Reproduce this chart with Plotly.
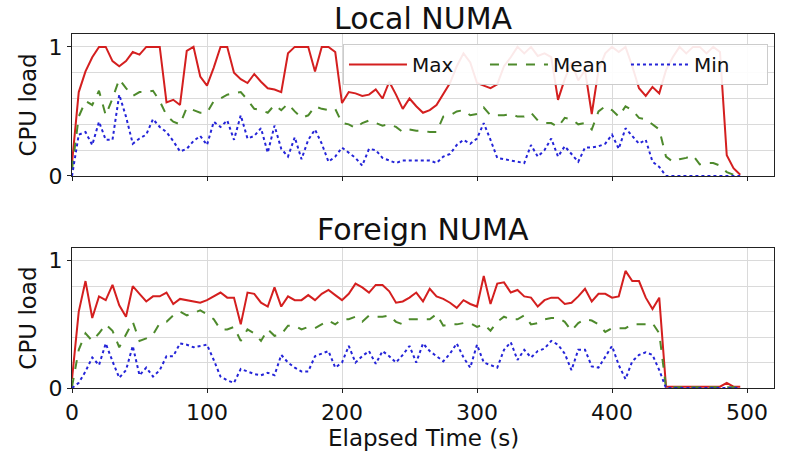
import plotly.graph_objects as go

time_s = list(range(0, 500, 5))

local_max = [0.10, 0.65, 0.81, 0.92, 1.00, 1.00, 0.89, 0.85, 0.89, 0.96,
             0.94, 1.00, 1.00, 1.00, 0.57, 0.59, 0.55, 0.97, 1.00, 0.77,
             0.70, 0.84, 1.00, 1.00, 0.80, 0.75, 0.72, 0.79, 0.73, 0.68,
             0.67, 0.65, 0.95, 1.00, 1.00, 1.00, 0.81, 1.00, 1.00, 0.96,
             0.565, 0.65, 0.64, 0.62, 0.63, 0.67, 0.60, 0.73, 0.63, 0.52,
             0.60, 0.54, 0.49, 0.51, 0.55, 0.63, 0.72, 0.85, 0.95, 0.88,
             0.72, 0.70, 0.68, 0.71, 0.85, 0.92, 1.00, 0.95, 1.00, 0.93,
             0.95, 0.92, 0.59, 0.75, 0.88, 0.74, 0.82, 0.48, 0.82, 0.95,
             1.00, 0.96, 1.00, 0.85, 0.68, 0.62, 0.69, 0.64, 0.82, 0.92,
             1.00, 0.95, 1.00, 1.00, 0.95, 1.00, 0.96, 0.16, 0.06, 0.01]

local_mean = [0.05, 0.46, 0.58, 0.55, 0.66, 0.47, 0.60, 0.75, 0.68, 0.62,
              0.65, 0.65, 0.66, 0.58, 0.47, 0.42, 0.40, 0.53, 0.51, 0.49,
              0.49, 0.58, 0.60, 0.63, 0.64, 0.65, 0.59, 0.52, 0.51, 0.49,
              0.55, 0.51, 0.56, 0.50, 0.45, 0.47, 0.54, 0.52, 0.51, 0.52,
              0.41, 0.40, 0.37, 0.41, 0.43, 0.41, 0.39, 0.40, 0.38, 0.34,
              0.36, 0.35, 0.35, 0.34, 0.34, 0.46, 0.47, 0.50, 0.51, 0.47,
              0.48, 0.53, 0.47, 0.47, 0.47, 0.48, 0.46, 0.46, 0.49, 0.43,
              0.41, 0.41, 0.38, 0.45, 0.44, 0.40, 0.41, 0.36, 0.50, 0.54,
              0.51, 0.46, 0.54, 0.51, 0.45, 0.44, 0.40, 0.36, 0.15, 0.11,
              0.13, 0.14, 0.16, 0.09, 0.10, 0.10, 0.08, 0.03, 0.01, 0.01]

local_min = [0.00, 0.32, 0.34, 0.24, 0.42, 0.28, 0.28, 0.63, 0.46, 0.25,
             0.29, 0.32, 0.44, 0.38, 0.34, 0.27, 0.19, 0.21, 0.27, 0.31,
             0.24, 0.42, 0.38, 0.43, 0.28, 0.47, 0.29, 0.31, 0.37, 0.18,
             0.39, 0.21, 0.15, 0.30, 0.13, 0.28, 0.36, 0.25, 0.11, 0.15,
             0.22, 0.18, 0.14, 0.08, 0.21, 0.20, 0.14, 0.12, 0.10, 0.12,
             0.12, 0.12, 0.12, 0.12, 0.10, 0.15, 0.17, 0.24, 0.28, 0.25,
             0.29, 0.41, 0.28, 0.14, 0.13, 0.12, 0.11, 0.10, 0.24, 0.15,
             0.20, 0.29, 0.15, 0.23, 0.17, 0.11, 0.22, 0.22, 0.23, 0.25,
             0.32, 0.21, 0.37, 0.31, 0.25, 0.28, 0.11, 0.07, 0.00, 0.00,
             0.00, 0.00, 0.00, 0.00, 0.00, 0.00, 0.00, 0.00, 0.00, 0.00]

foreign_max = [0.07, 0.60, 0.84, 0.55, 0.72, 0.69, 0.81, 0.65, 0.56, 0.80,
               0.74, 0.68, 0.72, 0.72, 0.75, 0.66, 0.70, 0.69, 0.68, 0.67,
               0.69, 0.72, 0.75, 0.71, 0.71, 0.50, 0.75, 0.74, 0.67, 0.64,
               0.79, 0.64, 0.72, 0.69, 0.69, 0.73, 0.69, 0.74, 0.77, 0.73,
               0.69, 0.74, 0.82, 0.79, 0.75, 0.81, 0.81, 0.76, 0.67, 0.68,
               0.71, 0.75, 0.68, 0.78, 0.72, 0.70, 0.67, 0.63, 0.69, 0.66,
               0.64, 0.88, 0.66, 0.82, 0.83, 0.75, 0.77, 0.72, 0.71, 0.64,
               0.69, 0.71, 0.71, 0.66, 0.67, 0.72, 0.78, 0.68, 0.74, 0.74,
               0.71, 0.72, 0.92, 0.84, 0.84, 0.71, 0.62, 0.71, 0.01, 0.01,
               0.01, 0.015, 0.01, 0.01, 0.015, 0.01, 0.01, 0.04, 0.01, 0.01]

foreign_mean = [0.01, 0.30, 0.43, 0.37, 0.43, 0.50, 0.45, 0.32, 0.42, 0.52,
                0.37, 0.39, 0.42, 0.51, 0.52, 0.57, 0.60, 0.57, 0.59, 0.61,
                0.58, 0.54, 0.46, 0.46, 0.48, 0.37, 0.46, 0.43, 0.37, 0.46,
                0.41, 0.42, 0.49, 0.49, 0.46, 0.48, 0.47, 0.50, 0.53, 0.50,
                0.54, 0.54, 0.56, 0.52, 0.57, 0.56, 0.56, 0.57, 0.52, 0.50,
                0.54, 0.54, 0.54, 0.54, 0.58, 0.49, 0.50, 0.50, 0.51, 0.51,
                0.48, 0.50, 0.45, 0.52, 0.56, 0.54, 0.54, 0.57, 0.50, 0.51,
                0.54, 0.55, 0.55, 0.52, 0.45, 0.51, 0.54, 0.53, 0.50, 0.44,
                0.47, 0.47, 0.47, 0.50, 0.50, 0.50, 0.51, 0.43, 0.005, 0.005,
                0.005, 0.005, 0.005, 0.005, 0.005, 0.005, 0.005, 0.005, 0.005, 0.005]

foreign_min = [0.00, 0.04, 0.13, 0.24, 0.18, 0.35, 0.21, 0.08, 0.14, 0.33,
               0.10, 0.16, 0.09, 0.14, 0.25, 0.25, 0.35, 0.34, 0.32, 0.33,
               0.34, 0.22, 0.09, 0.06, 0.04, 0.15, 0.13, 0.11, 0.10, 0.12,
               0.10, 0.26, 0.20, 0.16, 0.13, 0.13, 0.25, 0.27, 0.29, 0.16,
               0.20, 0.33, 0.20, 0.25, 0.29, 0.19, 0.29, 0.25, 0.20, 0.26,
               0.33, 0.20, 0.35, 0.29, 0.25, 0.21, 0.27, 0.35, 0.24, 0.16,
               0.34, 0.20, 0.18, 0.16, 0.30, 0.36, 0.22, 0.30, 0.24, 0.29,
               0.31, 0.37, 0.34, 0.27, 0.14, 0.30, 0.30, 0.17, 0.16, 0.24,
               0.33, 0.18, 0.07, 0.21, 0.26, 0.28, 0.26, 0.14, 0.00, 0.00,
               0.00, 0.00, 0.00, 0.00, 0.00, 0.00, 0.00, 0.00, 0.00, 0.00]

panel_titles = ["Local NUMA", "Foreign NUMA"]
series_names = ["Max", "Mean", "Min"]
x_ticks = [0, 100, 200, 300, 400, 500]

RED = "#d41f1f"
GREEN = "#4e8a2c"
BLUE = "#2424d8"
FONT = "DejaVu Sans, Verdana, sans-serif"

styles = [dict(color=RED, width=2, dash="solid"),
          dict(color=GREEN, width=2, dash="dash"),
          dict(color=BLUE, width=2, dash="dot")]

fig = go.Figure()

panels = [("x", "y", [local_max, local_mean, local_min], True),
          ("x2", "y2", [foreign_max, foreign_mean, foreign_min], False)]

for xa, ya, data, show in panels:
    for name, vals, st in zip(series_names, data, styles):
        fig.add_trace(go.Scatter(x=time_s, y=vals, mode="lines", name=name,
                                 line=st, xaxis=xa, yaxis=ya, showlegend=show))

grid = "#dadada"
axis_common = dict(showline=True, linecolor="#222222", linewidth=1.3, mirror=True,
                   ticks="outside", ticklen=4, tickcolor="#222222",
                   gridcolor=grid, gridwidth=1.3, zeroline=False,
                   tickfont=dict(family=FONT, size=22, color="#111111"))

xcommon = dict(axis_common, range=[0, 520], tickvals=x_ticks)
ycommon = dict(axis_common, range=[0, 1.1], tickvals=[0, 1], ticktext=["0", "1"],
               minor=dict(dtick=0.2, tick0=0, showgrid=True, gridcolor=grid,
                          gridwidth=1.3, ticks=""))

fig.update_layout(
    width=786, height=453,
    margin=dict(l=72, r=12, t=34, b=65),
    paper_bgcolor="white", plot_bgcolor="white",
    font=dict(family=FONT, color="#111111"),
    xaxis=dict(xcommon, domain=[0, 1], anchor="y", showticklabels=False, matches="x2"),
    yaxis=dict(ycommon, domain=[0.599, 1.0], anchor="x"),
    xaxis2=dict(xcommon, domain=[0, 1], anchor="y2"),
    yaxis2=dict(ycommon, domain=[0.0, 0.3955], anchor="x2"),
    legend=dict(orientation="h", x=0.386, y=0.972, xanchor="left", yanchor="top",
                bgcolor="rgba(255,255,255,0.9)", bordercolor="#cccccc", borderwidth=1,
                font=dict(family=FONT, size=20, color="#111111"),
                itemwidth=58, entrywidth=68, entrywidthmode="pixels"),
    showlegend=True,
)

annos = [
    dict(text=panel_titles[0], x=0.5, y=1.045, xref="paper", yref="paper",
         xanchor="center", yanchor="middle", showarrow=False,
         font=dict(family=FONT, size=30, color="#111111")),
    dict(text=panel_titles[1], x=0.5, y=0.449, xref="paper", yref="paper",
         xanchor="center", yanchor="middle", showarrow=False,
         font=dict(family=FONT, size=30, color="#111111")),
    dict(text="CPU load", x=-0.063, y=0.80, xref="paper", yref="paper",
         xanchor="center", yanchor="middle", textangle=-90, showarrow=False,
         font=dict(family=FONT, size=23, color="#111111")),
    dict(text="CPU load", x=-0.063, y=0.198, xref="paper", yref="paper",
         xanchor="center", yanchor="middle", textangle=-90, showarrow=False,
         font=dict(family=FONT, size=23, color="#111111")),
    dict(text="Elapsed Time (s)", x=0.5, y=-0.141, xref="paper", yref="paper",
         xanchor="center", yanchor="middle", showarrow=False,
         font=dict(family=FONT, size=23, color="#111111")),
]
fig.update_layout(annotations=annos)

fig.write_html("out.html")
